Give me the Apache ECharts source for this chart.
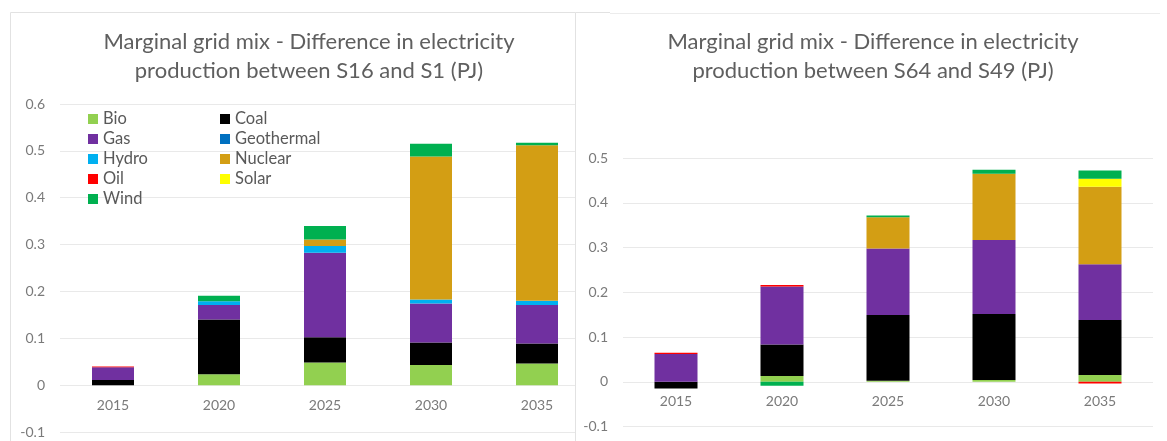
<!DOCTYPE html>
<html>
<head>
<meta charset="utf-8">
<script src="https://cdn.jsdelivr.net/npm/echarts@6/dist/echarts.min.js"></script>
<style>
html,body{margin:0;padding:0;background:#fff;}
#c{width:1167px;height:441px;}
</style>
</head>
<body>
<div id="c"></div>
<script>
// ---- data ----
const years = ['2015', '2020', '2025', '2030', '2035'];
const fuels = ['Bio', 'Coal', 'Gas', 'Geothermal', 'Hydro', 'Nuclear', 'Oil', 'Solar', 'Wind'];
const fuelColors = ['#92D050', '#000000', '#7030A0', '#0070C0', '#00B0F0', '#D39E14', '#FF0000', '#FFFF00', '#00B050'];

const titleLeft = 'Marginal grid mix - Difference in electricity\nproduction between S16 and S1 (PJ)';
const titleRight = 'Marginal grid mix - Difference in electricity\nproduction between S64 and S49 (PJ)';

// S16 vs S1
const s16Bio = [0, 0.0235, 0.0485, 0.043, 0.046];
const s16Coal = [0.011, 0.1165, 0.0535, 0.048, 0.043];
const s16Gas = [0.027, 0.031, 0.1805, 0.083, 0.082];
const s16Geothermal = [0, 0, 0, 0, 0];
const s16Hydro = [0, 0.008, 0.0145, 0.009, 0.009];
const s16Nuclear = [0, 0, 0.014, 0.305, 0.332];
const s16Oil = [0.002, 0, 0, 0, 0];
const s16Solar = [0, 0, 0, 0, 0];
const s16Wind = [0, 0.012, 0.0285, 0.027, 0.0055];

// S64 vs S49
const s64Bio = [0, 0.013, 0.002, 0.004, 0.015];
const s64Coal = [-0.015, 0.070, 0.147, 0.1475, 0.123];
const s64Gas = [0.062, 0.130, 0.149, 0.1655, 0.1246];
const s64Geothermal = [0, 0, 0, 0, 0];
const s64Hydro = [0, 0, 0, 0, 0];
const s64Nuclear = [0, 0, 0.0695, 0.148, 0.1734];
const s64Oil = [0.003, 0.003, 0, 0, -0.004];
const s64Solar = [0, 0, 0, 0, 0.0175];
const s64Wind = [0, -0.009, 0.004, 0.009, 0.0185];

const leftTicks = {min: -0.1, max: 0.6, interval: 0.1};
const rightTicks = {min: -0.1, max: 0.5, interval: 0.1};

const leftData = [s16Bio, s16Coal, s16Gas, s16Geothermal, s16Hydro, s16Nuclear, s16Oil, s16Solar, s16Wind];
const rightData = [s64Bio, s64Coal, s64Gas, s64Geothermal, s64Hydro, s64Nuclear, s64Oil, s64Solar, s64Wind];

// ---- chart ----
const FONT = 'Lato, "Open Sans", sans-serif';
const gridLineColor = '#e9e9e9';
const tickColor = '#7a7a7a';

// grid geometry (pixels)
const G = [
  {left: 60, top: 104, width: 530, height: 328},
  {left: 623, top: 158, width: 530, height: 268.5}
];
const T = [leftTicks, rightTicks];
// distance from grid bottom (min) to the zero line, so the category labels sit under zero
function zeroOffset(i) {
  const t = T[i];
  return -G[i].height * (0 - t.min) / (t.max - t.min);
}

function xAxis(gi) {
  return {
    type: 'category', gridIndex: gi, data: years, position: 'bottom',
    offset: zeroOffset(gi),
    axisLine: {show: false, onZero: false},
    axisTick: {show: false},
    axisLabel: {color: tickColor, fontFamily: FONT, fontSize: 14, margin: 13}
  };
}
function yAxis(gi, t, z) {
  return {
    type: 'value', gridIndex: gi, min: t.min, max: t.max, interval: t.interval, z: z,
    axisLine: {show: false}, axisTick: {show: false},
    splitLine: {lineStyle: {color: gridLineColor, width: 1}},
    axisLabel: {color: tickColor, fontFamily: FONT, fontSize: 14, margin: 15}
  };
}

const series = [];
fuels.forEach((f, i) => {
  series.push({
    name: f, type: 'bar', stack: 'left', xAxisIndex: 0, yAxisIndex: 0, z: 3,
    barWidth: 42, data: leftData[i], itemStyle: {color: fuelColors[i]}
  });
});
fuels.forEach((f, i) => {
  series.push({
    name: f, type: 'bar', stack: 'right', xAxisIndex: 1, yAxisIndex: 1, z: 3,
    barWidth: 43, data: rightData[i], itemStyle: {color: fuelColors[i]}
  });
});

const legendText = {color: '#595959', fontFamily: FONT, fontSize: 16.5, lineHeight: 18};
const titleText = {color: '#5f5f5f', fontFamily: FONT, fontWeight: 'normal', fontSize: 22, lineHeight: 29};
const option = {
  backgroundColor: '#ffffff',
  animation: false,
  title: [
    {text: titleLeft, left: 309, top: 27, textAlign: 'center', padding: 0, textStyle: titleText},
    {text: titleRight, left: 873, top: 27, textAlign: 'center', padding: 0, textStyle: titleText}
  ],
  legend: [
    {data: ['Bio', 'Gas', 'Hydro', 'Oil', 'Wind'], orient: 'vertical', left: 88, top: 110, padding: 0,
     itemWidth: 10, itemHeight: 10, itemGap: 2, icon: 'rect', textStyle: legendText},
    {data: ['Coal', 'Geothermal', 'Nuclear', 'Solar'], orient: 'vertical', left: 220, top: 110, padding: 0,
     itemWidth: 10, itemHeight: 10, itemGap: 2, icon: 'rect', textStyle: legendText}
  ],
  grid: [
    Object.assign({outerBoundsMode: 'none', containLabel: false}, G[0]),
    Object.assign({outerBoundsMode: 'none', containLabel: false}, G[1])
  ],
  xAxis: [xAxis(0), xAxis(1)],
  yAxis: [yAxis(0, leftTicks, 0), yAxis(1, rightTicks, 2)],
  series: series,
  graphic: [
    {type: 'rect', z: 1, shape: {x: 576, y: 14, width: 14, height: 427}, style: {fill: '#ffffff'}},
    {type: 'line', z: 10, shape: {x1: 10.5, y1: 12.5, x2: 575.5, y2: 12.5}, style: {stroke: '#e2e2e2', lineWidth: 1}},
    {type: 'line', z: 10, shape: {x1: 10.5, y1: 12.5, x2: 10.5, y2: 441}, style: {stroke: '#e2e2e2', lineWidth: 1}},
    {type: 'line', z: 10, shape: {x1: 575.5, y1: 12.5, x2: 575.5, y2: 441}, style: {stroke: '#e2e2e2', lineWidth: 1}},
    {type: 'line', z: 10, shape: {x1: 575.5, y1: 12.5, x2: 610, y2: 12.5}, style: {stroke: '#e2e2e2', lineWidth: 1}},
    {type: 'line', z: 10, shape: {x1: 610, y1: 13.5, x2: 1160, y2: 13.5}, style: {stroke: '#ececec', lineWidth: 1}}
  ]
};

const chart = echarts.init(document.getElementById('c'), null, {renderer: 'canvas'});
chart.setOption(option);
</script>
</body>
</html>
